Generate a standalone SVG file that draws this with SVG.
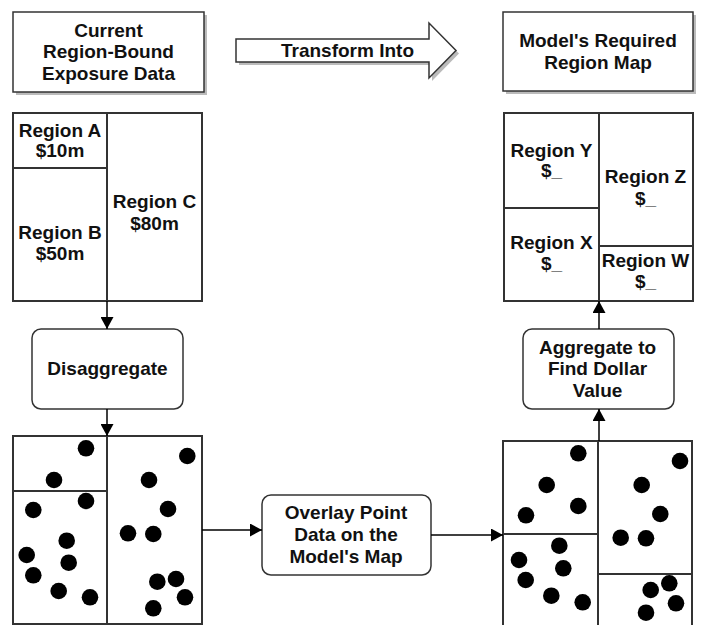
<svg xmlns="http://www.w3.org/2000/svg" width="701" height="625" viewBox="0 0 701 625">
<style>
  text { font-family: "Liberation Sans", Arial, Helvetica, sans-serif; font-weight: bold; font-size: 19px; fill: #111; text-anchor: middle; }
  .box { fill: #fff; stroke: #333; stroke-width: 1.5; }
  .shadow { fill: #bbb; stroke: none; }
  .map { fill: #fff; stroke: #333; stroke-width: 2; }
  .div { stroke: #333; stroke-width: 2; fill: none; }
  .rbox { fill: #fff; stroke: #333; stroke-width: 1.5; }
  .dot { fill: #000; }
  .edge { stroke: #000; stroke-width: 1.5; fill: none; marker-end: url(#arr); }
</style>
<defs>
  <marker id="arr" markerUnits="userSpaceOnUse" markerWidth="13" markerHeight="13" refX="12" refY="6.5" orient="auto">
    <path d="M0,0 L12,6.5 L0,13 Z" fill="#000"/>
  </marker>
</defs>
<rect width="701" height="625" fill="#fff"/>

<g id="current-data">
  <rect class="shadow" x="16" y="15" width="191" height="80"/>
  <rect class="box" x="13" y="12" width="191" height="80"/>
  <text x="108.5" y="36.7">Current</text>
  <text x="108.5" y="58.3">Region-Bound</text>
  <text x="108.5" y="80">Exposure Data</text>
</g>

<g id="transform-into">
  <polygon class="shadow" points="239,42 432,42 432,26 459,53.5 432,81 432,65 239,65"/>
  <polygon class="box" points="236,39 429,39 429,23 456,50.5 429,78 429,62 236,62"/>
  <text x="347.5" y="56.8">Transform Into</text>
</g>

<g id="required-map-title">
  <rect class="shadow" x="506" y="15" width="190" height="79"/>
  <rect class="box" x="503" y="12" width="190" height="79"/>
  <text x="598" y="47">Model's Required</text>
  <text x="598" y="68.5">Region Map</text>
</g>

<g id="current-map">
  <rect class="map" x="13" y="113" width="189" height="188"/>
  <line class="div" x1="107" y1="113" x2="107" y2="301"/>
  <line class="div" x1="13" y1="168" x2="107" y2="168"/>
  <text x="60" y="136.7">Region A</text>
  <text x="60" y="156.7">$10m</text>
  <text x="60" y="239.3">Region B</text>
  <text x="60" y="260">$50m</text>
  <text x="154.5" y="208.3">Region C</text>
  <text x="154.5" y="230">$80m</text>
</g>

<g id="required-map">
  <rect class="map" x="504" y="113" width="189" height="188"/>
  <line class="div" x1="599" y1="113" x2="599" y2="301"/>
  <line class="div" x1="504" y1="208" x2="599" y2="208"/>
  <line class="div" x1="599" y1="246" x2="693" y2="246"/>
  <text x="551.5" y="157">Region Y</text>
  <text x="551.5" y="177">$_</text>
  <text x="551.5" y="249">Region X</text>
  <text x="551.5" y="270">$_</text>
  <text x="645.5" y="183">Region Z</text>
  <text x="645.5" y="205">$_</text>
  <text x="645.5" y="267">Region W</text>
  <text x="645.5" y="288">$_</text>
</g>

<g id="disaggregate">
  <rect class="rbox" x="32" y="329" width="151" height="80" rx="9" ry="9"/>
  <text x="107.5" y="375.3">Disaggregate</text>
</g>

<g id="aggregate">
  <rect class="rbox" x="523" y="329" width="151" height="80" rx="9" ry="9"/>
  <text x="597.5" y="353.7">Aggregate to</text>
  <text x="597.5" y="375.3">Find Dollar</text>
  <text x="597.5" y="397">Value</text>
</g>

<g id="overlay">
  <rect class="rbox" x="262" y="495" width="169" height="80" rx="9" ry="9"/>
  <text x="346" y="519">Overlay Point</text>
  <text x="346" y="541">Data on the</text>
  <text x="346" y="562.6">Model's Map</text>
</g>

<g id="point-data-current">
  <rect class="map" x="13" y="436" width="189" height="188"/>
  <line class="div" x1="107" y1="436" x2="107" y2="624"/>
  <line class="div" x1="13" y1="491" x2="107" y2="491"/>
  <circle class="dot" cx="86" cy="448.3" r="8.3"/>
  <circle class="dot" cx="54" cy="480" r="8.3"/>
  <circle class="dot" cx="86" cy="501" r="8.3"/>
  <circle class="dot" cx="33.3" cy="510" r="8.3"/>
  <circle class="dot" cx="66.7" cy="540.7" r="8.3"/>
  <circle class="dot" cx="26.7" cy="555" r="8.3"/>
  <circle class="dot" cx="68.7" cy="562.7" r="8.3"/>
  <circle class="dot" cx="33.3" cy="575.3" r="8.3"/>
  <circle class="dot" cx="58.7" cy="591" r="8.3"/>
  <circle class="dot" cx="90" cy="597.3" r="8.3"/>
  <circle class="dot" cx="187.3" cy="456" r="8.3"/>
  <circle class="dot" cx="149" cy="480" r="8.3"/>
  <circle class="dot" cx="168" cy="509" r="8.3"/>
  <circle class="dot" cx="128" cy="533.3" r="8.3"/>
  <circle class="dot" cx="153.3" cy="534" r="8.3"/>
  <circle class="dot" cx="157.3" cy="581.7" r="8.3"/>
  <circle class="dot" cx="176" cy="579" r="8.3"/>
  <circle class="dot" cx="185" cy="597.3" r="8.3"/>
  <circle class="dot" cx="153.3" cy="608.3" r="8.3"/>
</g>

<g id="point-data-model">
  <rect class="map" x="503" y="441" width="189" height="188"/>
  <line class="div" x1="598" y1="441" x2="598" y2="629"/>
  <line class="div" x1="503" y1="534" x2="598" y2="534"/>
  <line class="div" x1="598" y1="574" x2="692" y2="574"/>
  <circle class="dot" cx="578.3" cy="453.3" r="8.3"/>
  <circle class="dot" cx="546.7" cy="485" r="8.3"/>
  <circle class="dot" cx="578.3" cy="506" r="8.3"/>
  <circle class="dot" cx="526" cy="515.3" r="8.3"/>
  <circle class="dot" cx="559.3" cy="545.7" r="8.3"/>
  <circle class="dot" cx="519" cy="560" r="8.3"/>
  <circle class="dot" cx="563.3" cy="568.3" r="8.3"/>
  <circle class="dot" cx="525.7" cy="580" r="8.3"/>
  <circle class="dot" cx="551.3" cy="595.7" r="8.3"/>
  <circle class="dot" cx="582.7" cy="602.3" r="8.3"/>
  <circle class="dot" cx="680" cy="461" r="8.3"/>
  <circle class="dot" cx="641.7" cy="485" r="8.3"/>
  <circle class="dot" cx="660.3" cy="514" r="8.3"/>
  <circle class="dot" cx="620.7" cy="537.7" r="8.3"/>
  <circle class="dot" cx="646" cy="538.3" r="8.3"/>
  <circle class="dot" cx="650.7" cy="590" r="8.3"/>
  <circle class="dot" cx="669.3" cy="583.3" r="8.3"/>
  <circle class="dot" cx="676" cy="603.3" r="8.3"/>
  <circle class="dot" cx="646" cy="612.7" r="8.3"/>
</g>

<g id="connectors">
  <path class="edge" d="M107,301 L107,329"/>
  <path class="edge" d="M107,409 L107,436"/>
  <path class="edge" d="M202,530 L262,530"/>
  <path class="edge" d="M431,535 L503,535"/>
  <path class="edge" d="M599,441 L599,409"/>
  <path class="edge" d="M599,329 L599,301"/>
</g>
</svg>
